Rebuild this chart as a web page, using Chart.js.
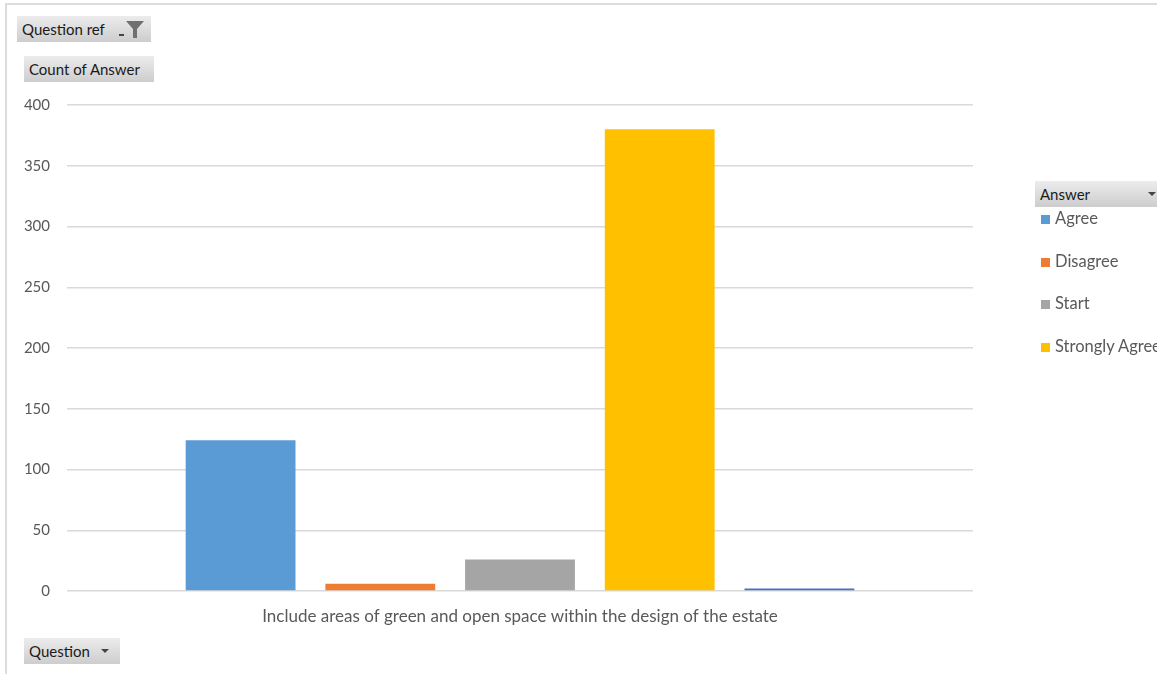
<!DOCTYPE html>
<html>
<head>
<meta charset="utf-8">
<script src="https://cdn.jsdelivr.net/npm/chart.js@4.4.0/dist/chart.umd.min.js"></script>
<style>
    html, body { margin: 0; padding: 0; background: #fff; overflow: hidden; }
    body { width: 1157px; height: 674px; position: relative; font-family: Lato, "Open Sans", sans-serif; }
    .frame { position: absolute; left: 5px; top: 3px; width: 1300px; height: 800px; border: 2px solid #dcdcdc; box-sizing: border-box; }
    #chartBox { position: absolute; left: 0; top: 0; width: 1157px; height: 674px; }
    .pbtn {
        position: absolute; height: 26px; line-height: 26px; box-sizing: border-box;
        padding-left: 5px; font-size: 15px; color: #1a1a1a;
        background: linear-gradient(#ececec, #cdcdcd);
    }
    .arrow { position: absolute; top: 11px; width: 0; height: 0; border-left: 4px solid transparent; border-right: 4px solid transparent; border-top: 4px solid #444; }
    #legend { position: absolute; left: 1041px; top: 208px; font-size: 16.5px; color: #595959; white-space: nowrap; }
    #legend .item { height: 42.5px; line-height: 20px; }
    #legend .box { display: inline-block; width: 9px; height: 9px; margin-right: 5px; vertical-align: 0px; }
</style>
</head>
<body>
<div class="frame"></div>
<div id="chartBox"><canvas id="chart"></canvas></div>

<div class="pbtn" style="left:17px; top:16px; width:134px;">Question ref
    <span style="position:absolute; left:102px; top:18px; width:5px; height:2px; background:#444;"></span>
    <svg style="position:absolute; left:109px; top:5px;" width="18" height="17" viewBox="0 0 18 17">
        <path d="M0 0 H18 L11 8 V17 H7 V8 Z" fill="#707070"/>
    </svg>
</div>
<div class="pbtn" style="left:24px; top:56px; width:130px;">Count of Answer</div>
<div class="pbtn" style="left:24px; top:638px; width:96px;">Question<span class="arrow" style="left:77px;"></span></div>
<div class="pbtn" style="left:1035px; top:181px; width:130px;">Answer<span class="arrow" style="left:113px;"></span></div>
<div id="legend"></div>

<script>
    const categories = ['Include areas of green and open space within the design of the estate'];
    const answers = ['Agree', 'Disagree', 'Start', 'Strongly Agree', 'Strongly Disagree'];
    const counts = [124, 6, 26, 380, 2];
    const colors = ['#5B9BD5', '#ED7D31', '#A5A5A5', '#FFC000', '#4472C4'];
    const yTicks = [0, 50, 100, 150, 200, 250, 300, 350, 400];
    const legendShown = ['Agree', 'Disagree', 'Start', 'Strongly Agree'];

    const datasets = answers.map(function (name, i) {
        return {
            label: name,
            data: [counts[i]],
            backgroundColor: colors[i],
            categoryPercentage: 0.771,
            barPercentage: 0.786
        };
    });

    const chart = new Chart(document.getElementById('chart').getContext('2d'), {
        type: 'bar',
        data: { labels: categories, datasets: datasets },
        options: {
            responsive: true,
            maintainAspectRatio: false,
            animation: false,
            layout: { padding: { top: 105, right: 184, left: 0, bottom: 0 } },
            plugins: {
                legend: { display: false },
                tooltip: { enabled: false }
            },
            scales: {
                x: {
                    grid: { display: false, drawTicks: false },
                    border: { display: false },
                    ticks: { color: '#595959', font: { family: 'Lato', size: 17 }, padding: 15 },
                    afterFit: function (scale) { scale.height = 83; }
                },
                y: {
                    min: 0,
                    max: 400,
                    afterBuildTicks: function (scale) {
                        scale.ticks = yTicks.map(function (v) { return { value: v }; });
                    },
                    grid: { color: '#d9d9d9', lineWidth: 1.5, drawTicks: false },
                    border: { display: false },
                    ticks: { color: '#595959', font: { family: 'Lato', size: 15 }, padding: 17 },
                    afterFit: function (scale) { scale.width = 67; }
                }
            }
        }
    });

    // legend from the chart's own datasets
    const legendEl = document.getElementById('legend');
    chart.data.datasets.forEach(function (ds) {
        if (legendShown.indexOf(ds.label) === -1) return;
        const row = document.createElement('div');
        row.className = 'item';
        row.innerHTML = '<span class="box" style="background:' + ds.backgroundColor + '"></span>' + ds.label;
        legendEl.appendChild(row);
    });
</script>
</body>
</html>
